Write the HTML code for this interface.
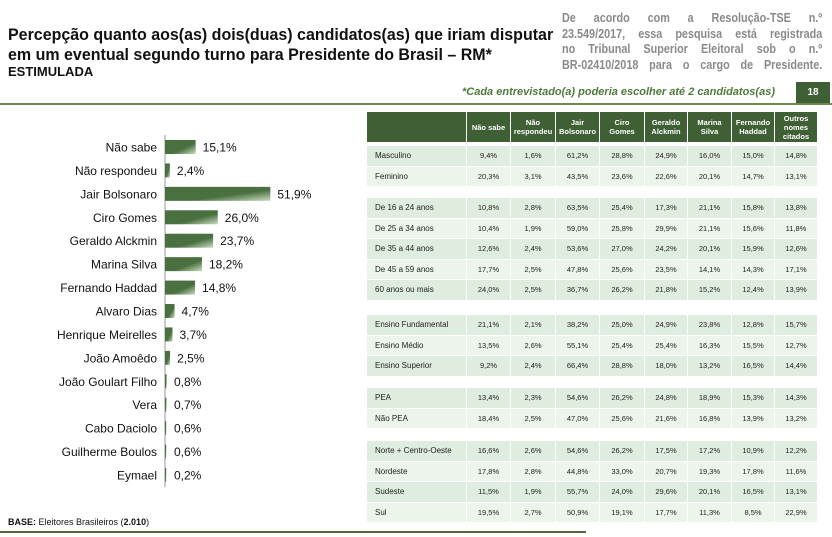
<!DOCTYPE html>
<html><head><meta charset="utf-8">
<style>
body{margin:0;width:832px;height:537px;background:#fff;position:relative;overflow:hidden;font-family:"Liberation Sans",sans-serif;}
.abs{position:absolute;}
.title{left:8px;top:25px;font-size:16.5px;font-weight:bold;color:#111;line-height:20px;transform:scaleX(0.97);transform-origin:left top;white-space:nowrap;}
.sub{left:8px;top:64px;font-size:13px;font-weight:bold;color:#111;}
.note{left:562px;top:10px;width:308px;font-size:12.8px;font-weight:bold;color:#8a8a8a;line-height:15.5px;transform:scaleX(0.845);transform-origin:left top;}
.note div{text-align:justify;text-align-last:justify;white-space:nowrap;}
.star{left:462px;top:86px;font-size:11px;font-style:italic;font-weight:bold;color:#4e7a3a;}
.pg{left:796px;top:82px;width:34px;height:21px;background:#3f5f35;color:#fff;font-size:10px;font-weight:bold;text-align:center;line-height:21px;}
.cell{font-size:7.5px;color:#222;text-align:center;}
.hd{font-size:7.5px;color:#fff;font-weight:bold;text-align:center;background:#3f5f35;display:flex;align-items:center;justify-content:center;line-height:9px;}
</style></head><body>
<div class="abs title">Percepção quanto aos(as) dois(duas) candidatos(as) que iriam disputar<br>em um eventual segundo turno para Presidente do Brasil – RM*</div>
<div class="abs sub">ESTIMULADA</div>
<div class="abs note"><div>De acordo com a Resolução-TSE n.º</div><div>23.549/2017, essa pesquisa está registrada</div><div>no Tribunal Superior Eleitoral sob o n.º</div><div>BR-02410/2018 para o cargo de Presidente.</div></div>
<div class="abs star">*Cada entrevistado(a) poderia escolher até 2 candidatos(as)</div>
<div class="abs pg">18</div>
<div class="abs" style="left:0;top:103px;width:832px;height:2px;background:#6d8a4d"></div>
<div class="abs" style="left:0;top:531px;width:586px;height:2px;background:#55683a"></div>
<div class="abs" style="left:8px;top:517px;font-size:9px;color:#111"><b>BASE:</b> Eleitores Brasileiros (<b>2.010</b>)</div>
<svg class="abs" style="left:0;top:0" width="832" height="537" id="bars">
<defs><linearGradient id="g" x1="0" y1="0" x2="1" y2="1"><stop offset="0.6" stop-color="#4a7040"/><stop offset="1" stop-color="#c9dcc0"/></linearGradient></defs>
</svg>
<div id="tbl"></div>
<script>
const categories=["Não sabe","Não respondeu","Jair Bolsonaro","Ciro Gomes","Geraldo Alckmin","Marina Silva","Fernando Haddad","Alvaro Dias","Henrique Meirelles","João Amoêdo","João Goulart Filho","Vera","Cabo Daciolo","Guilherme Boulos","Eymael"];
const values=[15.1,2.4,51.9,26.0,23.7,18.2,14.8,4.7,3.7,2.5,0.8,0.7,0.6,0.6,0.2];
const headers=["Não sabe","Não<br>respondeu","Jair<br>Bolsonaro","Ciro<br>Gomes","Geraldo<br>Alckmin","Marina<br>Silva","Fernando<br>Haddad","Outros<br>nomes<br>citados"];
const rowLabels=["Masculino","Feminino","De 16 a 24 anos","De 25 a 34 anos","De 35 a 44 anos","De 45 a 59 anos","60 anos ou mais","Ensino Fundamental","Ensino Médio","Ensino Superior","PEA","Não PEA","Norte + Centro-Oeste","Nordeste","Sudeste","Sul"];
const rowValues=[
[9.4,1.6,61.2,28.8,24.9,16.0,15.0,14.8],
[20.3,3.1,43.5,23.6,22.6,20.1,14.7,13.1],
[10.8,2.8,63.5,25.4,17.3,21.1,15.8,13.8],
[10.4,1.9,59.0,25.8,29.9,21.1,15.6,11.8],
[12.6,2.4,53.6,27.0,24.2,20.1,15.9,12.6],
[17.7,2.5,47.8,25.6,23.5,14.1,14.3,17.1],
[24.0,2.5,36.7,26.2,21.8,15.2,12.4,13.9],
[21.1,2.1,38.2,25.0,24.9,23.8,12.8,15.7],
[13.5,2.6,55.1,25.4,25.4,16.3,15.5,12.7],
[9.2,2.4,66.4,28.8,18.0,13.2,16.5,14.4],
[13.4,2.3,54.6,26.2,24.8,18.9,15.3,14.3],
[18.4,2.5,47.0,25.6,21.6,16.8,13.9,13.2],
[16.6,2.6,54.6,26.2,17.5,17.2,10.9,12.2],
[17.8,2.8,44.8,33.0,20.7,19.3,17.8,11.6],
[11.5,1.9,55.7,24.0,29.6,20.1,16.5,13.1],
[19.5,2.7,50.9,19.1,17.7,11.3,8.5,22.9]];
const groups=[2,5,3,2,4];
const fmt=v=>v.toFixed(1).replace('.',',')+'%';
const x0=165,sc=2.03,y0=147,step=23.43;
const xs=v=>x0+v*sc, ys=i=>y0+i*step;
const svg=document.getElementById('bars');
const ns='http://www.w3.org/2000/svg';
let ax=document.createElementNS(ns,'line');
ax.setAttribute('x1',x0);ax.setAttribute('x2',x0);ax.setAttribute('y1',ys(0)-12);ax.setAttribute('y2',ys(categories.length-1)+12);
ax.setAttribute('stroke','#999');


svg.appendChild(ax);
categories.forEach((c,i)=>{
 const r=document.createElementNS(ns,'rect');
 r.setAttribute('x',x0);r.setAttribute('y',ys(i)-7);r.setAttribute('width',Math.max(1.2,xs(values[i])-x0));r.setAttribute('height',14);
 r.setAttribute('fill','url(#g)');
 
 
 svg.appendChild(r);
 const t=document.createElementNS(ns,'text');
 t.setAttribute('x',x0-8);t.setAttribute('y',ys(i)+4.5);t.setAttribute('text-anchor','end');t.setAttribute('font-size','12');t.setAttribute('fill','#111');
 t.textContent=c;
 
 
 svg.appendChild(t);
 const v=document.createElementNS(ns,'text');
 v.setAttribute('x',Math.max(xs(values[i]),x0+2)+7);v.setAttribute('y',ys(i)+4.5);v.setAttribute('font-size','12');v.setAttribute('fill','#111');
 v.textContent=fmt(values[i]);
 
 
 svg.appendChild(v);
});
const cols=[367,467,511,556,600,645,688,732,775,818];
const tbl=document.getElementById('tbl');
function div(cls,l,t,w,h,html,bg){const d=document.createElement('div');d.className='abs '+cls;d.style.cssText=`left:${l}px;top:${t}px;width:${w}px;height:${h}px;`+(bg?`background:${bg};`:'');d.innerHTML=html;tbl.appendChild(d);return d;}
let hb=div('hd',cols[0],112,cols[1]-cols[0]-1,30,'');


headers.forEach((h,j)=>{const d=div('hd',cols[j+1],112,cols[j+2]-cols[j+1]-1,30,h);
 
 });
const groupTops=[146,198,315,388,441];
let ri=0;
groups.forEach((n,g)=>{for(let k=0;k<n;k++){
 const top=groupTops[g]+k*20.5, bg=(k%2==0)?'#dfece0':'#ecf4ec';
 const l=div('cell',cols[0],top,cols[1]-cols[0]-1,19.5,rowLabels[ri],bg);
 l.style.textAlign='left';l.style.paddingLeft='8px';l.style.width=(cols[1]-cols[0]-9)+'px';l.style.lineHeight='19.5px';l.style.fontSize='8px';
 
 
 rowValues[ri].forEach((v,j)=>{const c=div('cell',cols[j+1],top,cols[j+2]-cols[j+1]-1,19.5,fmt(v),bg);c.style.lineHeight='19.5px';
  
  });
 ri++;}});
</script>
</body></html>
